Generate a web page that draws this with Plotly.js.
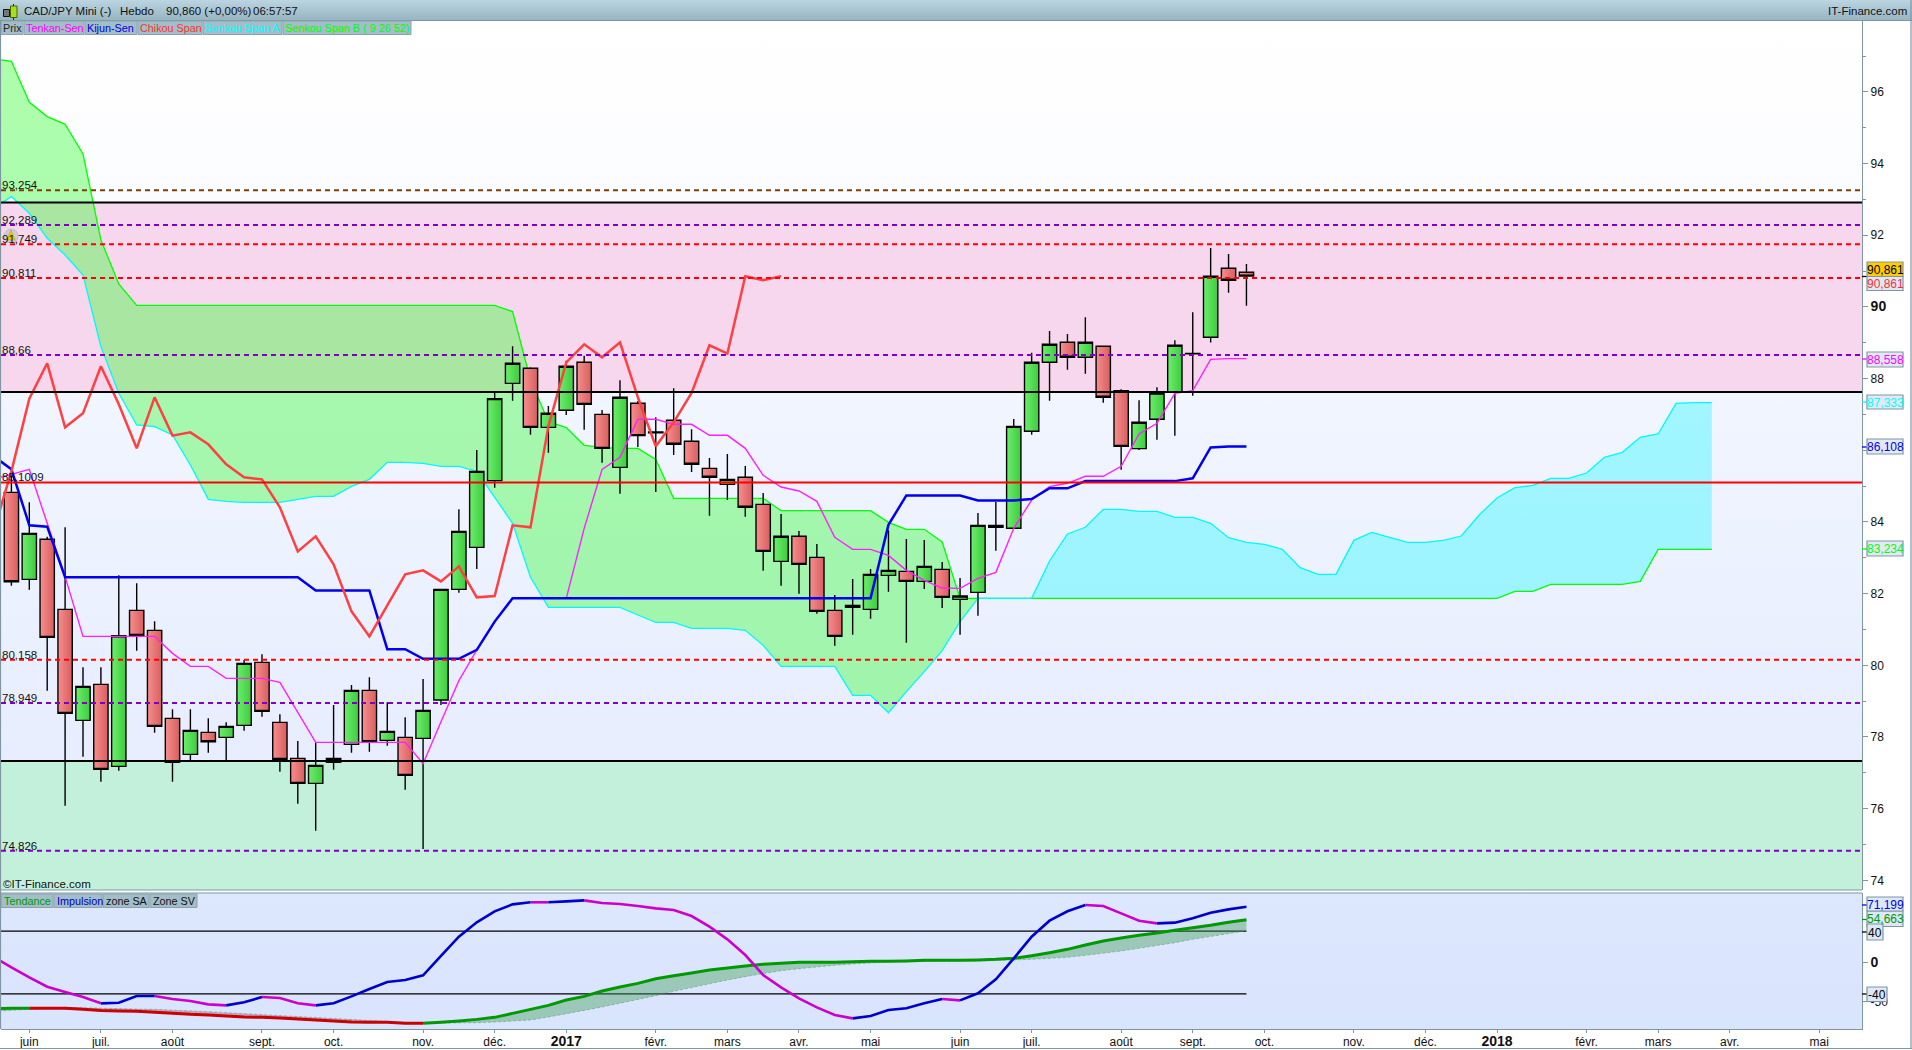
<!DOCTYPE html>
<html><head><meta charset="utf-8">
<script src="https://cdn.plot.ly/plotly-3.0.1.min.js"></script>
<style>
html,body{margin:0;padding:0;background:#fff;overflow:hidden}
#chart{width:1912px;height:1050px;
background:
 linear-gradient(#bbd5e1,#98b5c2) 0 0/100% 20px no-repeat,
 linear-gradient(#ffffff,#fbfcff 20%,#f0f5ff 45%,#e9effe 75%,#e4ebfe) 1px 21px/1861px 869px no-repeat,
 linear-gradient(#dde7fd,#d9e4fd) 1px 893px/1861px 136px no-repeat,
 #fff}
</style></head><body><div id="chart"></div>
<script>
const open_ = [84.827,82.399,83.516,81.562,78.464,79.469,77.18,81.534,80.976,78.52,77.515,78.129,77.99,78.325,80.083,78.408,77.403,76.706,77.292,77.794,79.301,77.906,77.99,77.962,79.032,82.12,83.292,85.153,87.869,88.288,86.641,87.116,88.456,87.004,85.525,87.311,86.51,86.837,86.251,85.497,85.05,85.246,84.492,82.901,83.6,83.013,81.534,81.618,81.562,82.511,82.622,82.343,82.678,81.841,82.036,83.906,83.823,86.53,88.456,89.014,88.595,88.902,87.665,86.046,86.865,87.637,88.69,89.153,91.079,90.967];
const high_ = [85.36,84.548,83.59,83.851,79.943,79.943,82.511,82.288,81.227,78.771,78.771,78.52,78.408,80.148,80.306,78.632,77.887,77.85,78.892,79.45,79.664,78.966,78.548,79.618,82.12,84.353,86.009,87.63,88.902,88.316,87.237,88.502,88.641,87.125,87.953,87.376,86.92,87.73,86.585,85.785,85.897,85.562,84.809,84.223,83.748,83.385,81.962,82.408,82.688,83.767,83.525,83.497,82.883,82.436,84.25,84.557,86.874,88.725,89.33,89.246,89.712,88.91,87.702,87.395,87.758,89.07,89.851,91.647,91.479,91.2];
const low_ = [82.22,82.111,79.292,76.082,77.45,76.752,77.059,80.408,78.12,76.752,77.338,77.562,77.338,78.176,78.566,77.031,76.138,75.385,77.087,77.562,77.59,77.757,76.529,74.873,78.892,82.027,82.688,84.958,87.386,86.436,85.934,86.986,86.576,85.655,84.79,86.093,84.836,85.869,85.395,84.176,84.613,84.148,82.641,82.222,81.999,81.441,80.548,80.855,81.301,82.055,80.632,82.129,81.599,80.855,81.385,83.199,83.82,86.437,87.386,88.251,88.139,87.33,85.46,86.009,86.297,86.409,87.525,89.005,90.4,90.037];
const close_ = [82.334,83.683,80.781,78.659,79.413,77.096,80.827,80.836,78.297,77.292,78.185,77.869,78.297,80.055,78.715,77.376,76.706,77.208,77.403,79.301,77.869,78.157,76.929,78.743,82.12,83.739,85.413,87.441,88.428,86.641,87.032,88.344,87.283,86.055,87.479,86.409,86.49,86.167,85.609,85.246,85.19,84.409,83.18,83.6,82.818,81.506,80.808,81.673,82.539,82.65,82.343,82.762,81.897,81.934,83.906,83.85,86.669,88.456,88.958,88.595,89.014,87.479,86.111,86.781,87.6,88.93,88.7,90.856,90.744,90.861];
// first value of these series sits one week before the first candle
const tenkan = [85.2,85.33,85.469,83.962,82.474,80.808,80.808,80.808,80.808,80.808,80.334,79.971,79.971,79.636,79.636,79.636,79.525,78.687,77.85,77.85,77.85,77.85,77.85,77.85,77.255,78.427,79.571,80.427,81.218,81.869,81.869,81.869,81.869,83.823,85.469,85.804,86.865,86.865,86.725,86.725,86.418,86.418,86.055,85.302,84.976,84.864,84.576,83.571,83.236,83.236,83.069,82.65,82.371,82.157,82.148,82.427,82.595,83.823,84.613,84.985,85.079,85.274,85.274,85.553,86.455,86.753,87.59,87.665,88.539,88.558,88.558];
const kijun = [85.84,85.47,83.91,83.87,82.46,82.46,82.46,82.46,82.46,82.46,82.46,82.46,82.46,82.46,82.46,82.46,82.46,82.46,82.09,82.09,82.09,82.09,80.45,80.45,80.18,80.18,80.18,80.43,81.22,81.87,81.87,81.87,81.87,81.87,81.87,81.87,81.87,81.87,81.87,81.87,81.87,81.87,81.87,81.87,81.87,81.87,81.87,81.87,81.87,81.87,83.92,84.74,84.74,84.74,84.74,84.6,84.6,84.6,84.64,84.94,84.94,85.14,85.14,85.14,85.14,85.14,85.14,85.22,86.08,86.108,86.108];
const chikou = [83.739,85.413,87.441,88.428,86.641,87.032,88.344,87.283,86.055,87.479,86.409,86.5,86.167,85.609,85.246,85.19,84.409,83.18,83.6,82.818,81.506,80.808,81.673,82.539,82.65,82.343,82.762,81.897,81.934,83.906,83.85,86.669,88.456,88.958,88.595,89.014,87.479,86.111,86.781,87.6,88.93,88.7,90.856,90.744,90.861];
const senkouA = [92.75,93.079,92.614,91.916,91.451,90.893,88.893,87.59,86.707,86.66,86.427,85.59,84.632,84.576,84.548,84.548,84.548,84.632,84.716,84.716,84.995,85.19,85.665,85.665,85.637,85.553,85.553,85.413,84.688,83.962,82.455,81.618,81.618,81.618,81.618,81.618,81.404,81.199,81.199,81.032,81.032,81.032,80.976,80.557,79.971,79.971,79.971,79.971,79.162,79.162,78.678,79.264,79.822,80.408,81.218,81.869,81.869,81.869,81.869,82.911,83.665,83.851,84.353,84.353,84.297,84.297,84.13,84.13,83.962,83.562,83.431,83.376,83.236,82.724,82.538,82.538,83.487,83.71,83.571,83.431,83.431,83.487,83.608,84.194,84.669,84.957,85.022,85.218,85.218,85.366,85.804,85.943,86.362,86.455,87.311,87.333,87.333];
const senkouB = [96.92,96.856,95.712,95.312,95.098,94.27,91.87,90.642,90.046,90.046,90.046,90.046,90.046,90.046,90.046,90.046,90.046,90.046,90.046,90.046,90.046,90.046,90.046,90.046,90.046,90.046,90.046,90.046,90.046,89.87,87.962,86.8,86.632,86.139,86.083,86.055,86.055,85.748,84.66,84.66,84.66,84.66,84.66,84.66,84.316,84.316,84.316,84.316,84.316,84.316,83.99,83.795,83.795,83.441,81.869,81.869,81.869,81.869,81.869,81.869,81.869,81.869,81.869,81.869,81.869,81.869,81.869,81.869,81.869,81.869,81.869,81.869,81.869,81.869,81.869,81.869,81.869,81.869,81.869,81.869,81.869,81.869,81.869,81.869,81.869,82.064,82.064,82.259,82.259,82.259,82.259,82.259,82.343,83.236,83.234,83.234,83.234];
const impulse = [7,-6.2,-19,-30.9,-37.7,-44.1,-52.2,-51.4,-42.8,-42.8,-46.7,-49.2,-53.5,-54.8,-50.9,-44.1,-45.4,-52.2,-54.8,-52.2,-43.3,-33.9,-25,-22.4,-16.4,8.3,33,51.3,65.4,74.3,76.9,76.9,78.1,79.4,76,74.7,72.2,69.2,67.1,59.4,45.8,29.6,9.5,-16,-31.8,-45.8,-57.3,-67.1,-71.4,-68.4,-60.7,-58.6,-52.2,-46.7,-48.4,-39.4,-21.6,5.3,33,53.4,65.4,73.4,72.2,62.8,53.4,50,50.9,56.4,63.7,67.9,71.2];
const tendance = [-59,-58.6,-58.6,-58.6,-58.6,-59.9,-61.2,-62,-62.4,-63.7,-65,-66.3,-67.1,-68.4,-69.7,-70.1,-71,-72.2,-73.5,-74.8,-76.1,-76.5,-76.5,-77.8,-77.8,-76.5,-74.8,-72.7,-70.1,-65,-59.9,-54.8,-48,-43.3,-36.5,-31.3,-26.7,-20.7,-16.9,-13.5,-9.6,-7.1,-4.5,-2.4,-1.1,0.2,0.2,0.2,1,1.5,1.5,1.9,2.7,2.7,2.7,3.2,4,5.3,8.7,12.5,16.8,22.3,27.4,31.3,34.7,37.7,41.1,44.5,47.5,51.3,54.7];
const signal = [-62.4,-61.6,-59.9,-59,-57.3,-57.8,-58.6,-59,-59.5,-59.9,-61.2,-62,-62.9,-64.1,-65.4,-66.3,-67.1,-68.4,-70.1,-71,-72.7,-73.5,-74.8,-76.1,-77.8,-77.8,-77.3,-76.9,-76.1,-75.2,-73.5,-69.7,-65.8,-61.2,-56.9,-52.2,-48,-42.4,-36.9,-31.8,-26.7,-22.4,-18.1,-14.3,-10.5,-7.9,-5.3,-3.6,-1.9,-0.2,0.6,1,1.5,1.9,1.9,1.9,2.3,2.7,4,5.3,6.6,9.1,11.7,14.7,18.1,21.5,25.3,29.6,33,36.8,40.6];
// week index ranges where the impulse line is blue, the rest is magenta
const impulseBlue = [[5,8],[12,14],[17,29],[30,32],[47,52],[53,60],[64,69]];
const impulseMagenta = [[-1,5],[8,12],[14,17],[29,30],[32,47],[52,53],[60,64]];
const tendanceGreen = [[-1,1],[23,69]];
const tendanceRed = [[1,23]];
const tickWeeks = [1,5,9,14,18,23,27,31,36,40,44,48,53,57,62,66,70,75,79,83,88,92,96,101];
const tickLabels = ['juin','juil.','août','sept.','oct.','nov.','déc.','<b style="font-size:14px">2017</b>','févr.','mars','avr.','mai','juin','juil.','août','sept.','oct.','nov.','déc.','<b style="font-size:14px">2018</b>','févr.','mars','avr.','mai'];
const priceTicks = [74,76,78,80,82,84,86,88,90,92,94,96];
const priceMinor = [75,77,79,81,83,85,87,89,91,93,95,97];
// the 86 mark has no visible label: the Kijun value box covers it
const priceLabels = ['74','76','78','80','82','84','','88','<b style="font-size:14px">90</b>','92','94','96'];
const blackLevels = [92.912,87.628,77.329];
const redLevel = 85.1009;
const dashedLevels = [93.254,92.289,91.749,90.811,88.66,80.158,78.949,74.826];
const dashedNames = ['93,254','92,289','91,749','90,811','88,66','80,158','78,949','74,826'];
const dashedColors = ['#7f3f00','#8000c0','#ff0000','#ff0000','#8000c0','#ff0000','#8000c0','#8000c0'];
const pinkZone = [87.628,92.912];
const mintZone = [73.73,77.329];
const priceRange = [73.73,97.98];
const oscRange = [-85,88.8];
const oscLevels = [40,-40];

const weeksFrom = (start,n)=>Array.from({length:n},(_,k)=>start+k);
const px = x => (x-1)/1861, py = y => (1029-y)/1008;
const GREY='#7f97a3', FONT='"Liberation Sans",Arial,sans-serif';

function line(x,y,color,width,extra){return Object.assign({type:'scatter',mode:'lines',x,y,line:{color,width,simplify:false},hoverinfo:'skip',xaxis:'x',yaxis:'y'},extra||{});}
function part(arr,a,b){return arr.slice(a+1,b+2);}
function segTrace(arr,segs,color,width){
  const xs=[],ys=[];
  segs.forEach(s=>{for(let i=s[0];i<=s[1];i++){xs.push(i);ys.push(arr[i+1]);} xs.push(null);ys.push(null);});
  return line(xs,ys,color,width,{yaxis:'y2'});
}
const traces=[];
// cloud lies on the lower of two overlaid price axes, so the candles stay on top of it
traces.push(line(weeksFrom(-1,56),part(senkouB,-1,54),'#00ff00',1.3));
traces.push(line(weeksFrom(-1,56),part(senkouA,-1,54),'#00f8ff',1.3,{fill:'tonexty',fillcolor:'rgba(52,252,50,0.4)'}));
traces.push(line(weeksFrom(54,42),part(senkouB,54,95),'#00ff00',1.3));
traces.push(line(weeksFrom(54,42),part(senkouA,54,95),'#00f8ff',1.3,{fill:'tonexty',fillcolor:'rgba(64,249,255,0.45)'}));
// candles
traces.push({type:'candlestick',x:weeksFrom(0,70),open:open_,high:high_,low:low_,close:close_,
  increasing:{line:{color:'#000',width:1.4},fillcolor:'#55dd55'},
  decreasing:{line:{color:'#000',width:1.4},fillcolor:'#ec7474'},
  whiskerwidth:0,hoverinfo:'skip',xaxis:'x',yaxis:'y3'});
traces.push(line(weeksFrom(-1,71),tenkan,'#ff20ff',1.4,{yaxis:'y3'}));
traces.push(line(weeksFrom(-1,71),kijun,'#0000ee',2.5,{yaxis:'y3'}));
traces.push(line(weeksFrom(-1,45),chikou,'#ff4040',2.5,{yaxis:'y3'}));
// oscillator panel
oscLevels.forEach(v=>traces.push(line([-1,69],[v,v],'#000',1.3,{yaxis:'y2'})));
function band(a,b,color){
  traces.push(line(weeksFrom(a,b-a+1),part(tendance,a,b),'rgba(0,0,0,0)',0,{yaxis:'y2'}));
  traces.push(line(weeksFrom(a,b-a+1),part(signal,a,b),'rgba(60,140,90,0.55)',0.8,{yaxis:'y2',fill:'tonexty',fillcolor:color,line:{color:'rgba(80,150,100,0.6)',width:0.8,dash:'3px,2px'}}));
}
band(-1,1,'rgba(70,160,90,0.42)');
band(1,23,'rgba(170,70,80,0.4)');
band(23,69,'rgba(70,160,90,0.42)');
traces.push(segTrace(tendance,tendanceGreen,'#009900',3));
traces.push(segTrace(tendance,tendanceRed,'#cc0000',3));
traces.push(segTrace(impulse,impulseMagenta,'#cc00cc',2.6));
traces.push(segTrace(impulse,impulseBlue,'#0000cc',2.6));

const shapes=[],annotations=[];
function rectP(x0,y0,x1,y1,fill,border,bw,layer){shapes.push({type:'rect',xref:'paper',yref:'paper',x0:px(x0),x1:px(x1),y0:py(y0),y1:py(y1),fillcolor:fill,line:{color:border||'rgba(0,0,0,0)',width:border?(bw||1):0},layer:layer||'above'});}
function segP(x0,y0,x1,y1,color,w){shapes.push({type:'line',xref:'paper',yref:'paper',x0:px(x0),x1:px(x1),y0:py(y0),y1:py(y1),line:{color,width:w||1},layer:'above'});}
function text(t,x,y,color,size,anchor){annotations.push({text:t,xref:'paper',yref:'paper',x:px(x),y:py(y),xanchor:anchor||'left',yanchor:'middle',showarrow:false,borderpad:0,font:{family:FONT,size:size||11.5,color:color||'#000'}});}
// zones
shapes.push({type:'rect',xref:'paper',yref:'y',x0:0,x1:1,y0:pinkZone[0],y1:pinkZone[1],fillcolor:'#f7d7ed',line:{width:0},layer:'below'});
shapes.push({type:'rect',xref:'paper',yref:'y',x0:0,x1:1,y0:mintZone[0],y1:mintZone[1],fillcolor:'#c3f0db',line:{width:0},layer:'below'});
// levels
blackLevels.forEach(v=>shapes.push({type:'line',xref:'paper',yref:'y',x0:0,x1:1,y0:v,y1:v,line:{color:'#000',width:2},layer:'above'}));
shapes.push({type:'line',xref:'paper',yref:'y',x0:0,x1:1,y0:redLevel,y1:redLevel,line:{color:'#ff0000',width:2},layer:'above'});
dashedLevels.forEach((v,k)=>{
  shapes.push({type:'line',xref:'paper',yref:'y',x0:0,x1:1,y0:v,y1:v,line:{color:dashedColors[k],width:2,dash:'5px,4px'},layer:'above'});
  annotations.push({text:dashedNames[k],xref:'paper',yref:'y',x:0,y:v,xanchor:'left',yanchor:'bottom',yshift:-2,showarrow:false,borderpad:0,font:{family:FONT,size:11.5,color:'#111'}});
});
annotations.push({text:'85,1009',xref:'paper',yref:'y',x:0,y:redLevel,xanchor:'left',yanchor:'bottom',yshift:-1,showarrow:false,borderpad:0,font:{family:FONT,size:11.5,color:'#111'}});
// header
text('CAD/JPY Mini (-)',23,11,'#111',11.5);
text('Hebdo',119,11,'#111',11.5);
text('90,860 (+0,00%)',165,11,'#111',11.5);
text('06:57:57',252,11,'#111',11.5);
text('IT-Finance.com',1908,11,'#111',11.5,'right');
segP(0,20.5,1912,20.5,GREY,1);
// main tabs
[[1,23,'Prix','#222'],[24,84,'Tenkan-Sen','#ff00ff'],[85,137,'Kijun-Sen','#0000ee'],[138,202,'Chikou Span','#ff3030'],[203,282,'Senkou Span A','#00ffff'],[283,411,'Senkou Span B ( 9 26 52)','#00ff00']].forEach(t=>{
  rectP(t[0],21,t[1],34.5,'#a3bdc9','#8aa3af',1);
  text(t[2],t[0]+1,28,t[3],10.8);
});
// lower tabs
[[1,53,'Tendance','#009900'],[54,102,'Impulsion','#0000cc'],[103,149,'zone SA','#111'],[150,197,'Zone SV','#111']].forEach(t=>{
  rectP(t[0],894,t[1],907.5,'#a3bdc9','#8aa3af',1);
  text(t[2],t[0]+2,901,t[3],10.8);
});
text('©IT-Finance.com',2,884,'#111',11.5);
// candle icon and bell
rectP(3.5,9.5,9.5,16.5,'#777','#111',1);
segP(13.5,4,13.5,20,'#222',1);
rectP(10.5,6,17,17.5,'#a8dd20','#446600',1);
shapes.push({type:'circle',xref:'paper',yref:'paper',x0:px(4),x1:px(18),y0:py(229),y1:py(243),fillcolor:'rgba(180,190,200,0.55)',line:{color:'#b8c0c8',width:1},layer:'above'});
shapes.push({type:'path',xref:'paper',yref:'paper',path:`M ${px(7)} ${py(240)} L ${px(11)} ${py(230)} L ${px(15)} ${py(240)} Z`,fillcolor:'#f0c800',line:{color:'#c09000',width:0.5},layer:'above'});
// value boxes
function box(x1,y0,y1,t,color,fill,tickY){
  if(tickY!==undefined) segP(1862,tickY,1867,tickY,color==='#000'?'#000':color,1.3);
  rectP(1867,y0,x1,y1,fill||'#dde7f6',GREY,1.2);
  text(t,(1867+x1)/2,(y0+y1)/2+0.5,color,12,'center');
}
box(1903,262,276.5,'90,861','#000','#ffcc00',276.5);
box(1903,276.5,290.5,'90,861','#ff3030');
box(1903,352,367,'88,558','#ff00ff','#e2e9f6',359);
box(1903,395,409,'87,333','#00ffff','#e2e9f6',402);
box(1903,439,454,'86,108','#0000ee','#e2e9f6',447);
box(1903,541,556,'83,234','#00ff00','#e2e9f6',549);
box(1903,911,926.5,'54,663','#009900','#dde7f6',919.5);
box(1903,897,911,'71,199','#0000ee','#dde7f6',905);
box(1883,924,940,'40','#000','#dde7f6',932);
box(1887,987,1001.5,'-40','#000','#dde7f6',994);
// outer frame and panel separators
segP(0.5,21,0.5,1029,GREY,1.2);
segP(1,890,1862,890,GREY,1.2);
segP(1,893,1862,893,GREY,1.2);
segP(0,1048.5,1912,1048.5,GREY,1.2);
segP(1911,0,1911,1049,GREY,1.2);

const tfont={family:FONT,size:12,color:'#111'};
const layout={width:1912,height:1050,margin:{l:1,r:50,t:21,b:21,pad:0},autosize:false,showlegend:false,
 paper_bgcolor:'rgba(0,0,0,0)',plot_bgcolor:'rgba(0,0,0,0)',boxgap:0.2,boxgroupgap:0,hovermode:false,dragmode:false,
 xaxis:{domain:[0,1],range:[-0.581,103.39],anchor:'y2',tickmode:'array',tickvals:tickWeeks,ticktext:tickLabels,ticks:'outside',ticklen:3,ticklabelstandoff:-2,tickcolor:GREY,tickfont:tfont,showgrid:false,zeroline:false,showline:true,linecolor:GREY,linewidth:1.2,rangeslider:{visible:false},tickangle:0,fixedrange:true},
 yaxis:{domain:[py(890),1],range:priceRange,anchor:'x',side:'right',tickmode:'array',tickvals:priceTicks,ticktext:priceLabels,ticks:'outside',ticklen:5,tickcolor:GREY,tickfont:tfont,showgrid:false,zeroline:false,showline:true,linecolor:GREY,linewidth:1.2,fixedrange:true,
   minor:{tickmode:'array',tickvals:priceMinor,ticks:'outside',ticklen:3,tickcolor:GREY,showgrid:false}},
 yaxis3:{overlaying:'y',anchor:'x',side:'right',range:priceRange,visible:false,showgrid:false,zeroline:false,fixedrange:true},
 yaxis2:{domain:[0,py(893)],range:oscRange,anchor:'x',side:'right',tickmode:'array',tickvals:[0,-50],ticktext:['<b style="font-size:14px">0</b>','-50'],ticks:'outside',ticklen:5,tickcolor:GREY,tickfont:tfont,showgrid:false,zeroline:false,showline:true,linecolor:GREY,linewidth:1.2,fixedrange:true},
 shapes,annotations};
Plotly.newPlot('chart',traces,layout,{displayModeBar:false,staticPlot:true,responsive:false}).then(gd=>{
  // horizontal shading inside the candle bodies
  const NS='http://www.w3.org/2000/svg';
  const svg=gd.querySelector('svg.main-svg');
  const defs=document.createElementNS(NS,'defs');
  [['gUp','#6cee6c','#3ecb3e'],['gDown','#f78e8e','#d85e5e']].forEach(g=>{
    const lg=document.createElementNS(NS,'linearGradient');
    lg.setAttribute('id',g[0]);
    [[0,g[1]],[1,g[2]]].forEach(s=>{
      const st=document.createElementNS(NS,'stop');
      st.setAttribute('offset',s[0]);st.setAttribute('stop-color',s[1]);lg.appendChild(st);
    });
    defs.appendChild(lg);
  });
  svg.appendChild(defs);
  gd.querySelectorAll('g.boxes path.box').forEach(p=>{
    const f=p.style.fill||'';
    if(f.indexOf('85, 221, 85')>=0) p.style.fill='url(#gUp)';
    else if(f.indexOf('236, 116, 116')>=0) p.style.fill='url(#gDown)';
  });
});
</script></body></html>
